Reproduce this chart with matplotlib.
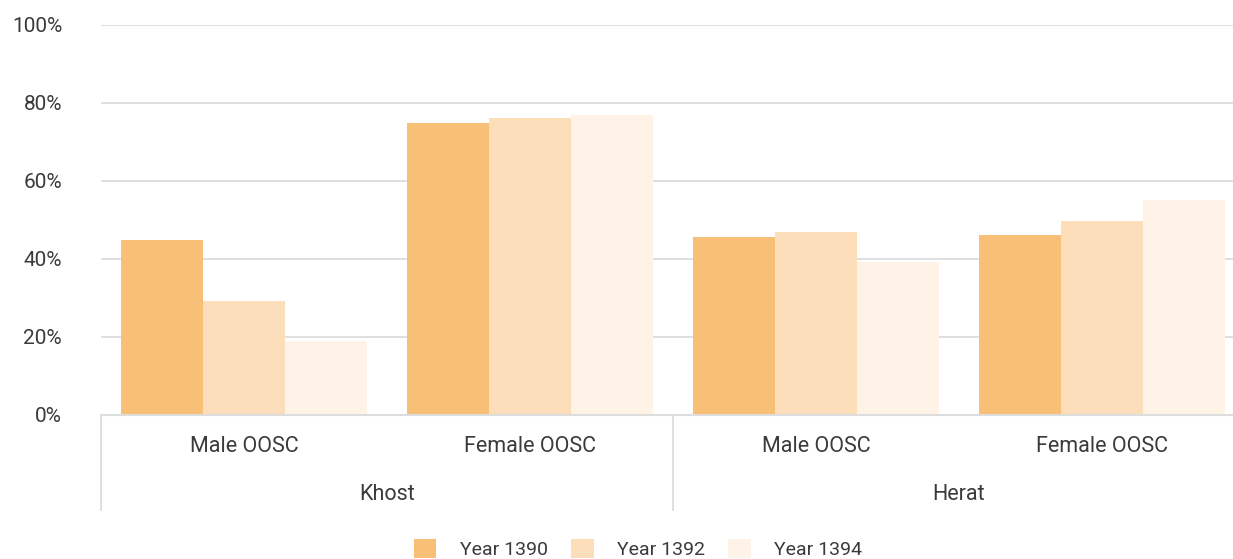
import matplotlib.pyplot as plt
import matplotlib.transforms as mtransforms
from matplotlib.patches import Patch
import numpy as np

plt.rcParams['font.family'] = ['Roboto', 'DejaVu Sans']

regions = ['Khost', 'Herat']
groups = ['Male OOSC', 'Female OOSC', 'Male OOSC', 'Female OOSC']
years = ['Year 1390', 'Year 1392', 'Year 1394']
y1390 = [45.0, 75.0, 45.6, 46.2]
y1392 = [29.2, 76.2, 46.9, 49.7]
y1394 = [19.0, 76.9, 39.3, 55.1]
colors = ['#F8BF77', '#FCDEBB', '#FEF3E6']
txt = '#3A3A3A'
grid_c = '#DDDDDD'

fig = plt.figure(figsize=(12.33, 5.59), dpi=100)
W, H = 1233, 559
ax = fig.add_axes([101 / W, (H - 415) / H, 1144 / W, 390 / H])

x = np.arange(len(groups))
bw = 0.287
for i, (vals, c) in enumerate(zip([y1390, y1392, y1394], colors)):
    ax.bar(x + (i - 1) * bw, vals, bw, color=c, zorder=2, linewidth=0)

ax.set_xlim(-0.5, len(groups) - 0.5)
ax.set_ylim(0, 100)
ax.set_yticks(range(0, 101, 20))
ax.set_yticklabels([f'{v}%' for v in range(0, 101, 20)], color=txt, fontsize=15)
ax.tick_params(axis='y', length=0, pad=28)
ax.tick_params(axis='x', length=0)
ax.set_xticks([])
ax.grid(axis='y', color=grid_c, linewidth=1.3, zorder=0)
for s in ['top', 'right', 'left']:
    ax.spines[s].set_visible(False)
ax.spines['bottom'].set_color(grid_c)
ax.spines['bottom'].set_linewidth(1.5)

tr = mtransforms.blended_transform_factory(ax.transData, ax.transAxes)
for xv in [-0.5, 1.5]:
    ax.plot([xv, xv], [0, -95 / 390], color=grid_c, linewidth=1.3, transform=tr, clip_on=False)
for xi, g in zip(x, groups):
    ax.text(xi, -32 / 390, g, transform=tr, ha='center', va='center', fontsize=15.5,
            color=txt)
for ri, r in enumerate(regions):
    ax.text(2 * ri + 0.5, -80 / 390, r, transform=tr, ha='center', va='center', fontsize=15.5,
            color=txt)

handles = [Patch(facecolor=c, edgecolor='none') for c in colors]
fig.legend(handles, years, loc='center', bbox_to_anchor=(638 / W, 1 - 549 / H), ncol=3,
           frameon=False, handlelength=1.15, handleheight=1.15,
           handletextpad=1.2, columnspacing=1.2, labelcolor=txt,
           prop={'size': 14})

fig.savefig('out.png', dpi=100)
